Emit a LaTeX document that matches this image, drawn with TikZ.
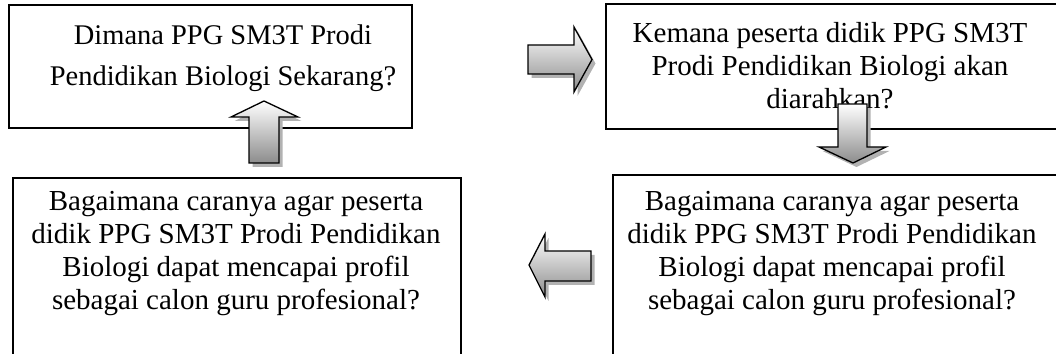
\documentclass[tikz,border=0pt]{standalone}
\usepackage{fontspec}
\setmainfont{Liberation Serif}
\begin{document}
\begin{tikzpicture}[
  qbox/.style={draw=black, line width=0.9pt, anchor=north west, inner sep=0pt},
  qtext/.style={align=center, font=\fontsize{16.5}{18.8}\selectfont, inner sep=0pt},
  blockarr/.style={draw=black, line width=0.75pt, line join=miter,
    top color=white, bottom color=black!45,
    preaction={fill=black!30, transform canvas={shift={(0.07,-0.08)}}}}
]

\useasboundingbox (0,0) rectangle (21.12,-7.08);
\clip (0,0) rectangle (21.12,-7.08);

%% the four question boxes
\node[qbox, minimum width=8.06cm, minimum height=2.46cm] (now) at (0.16,-0.08) {};
\node[qbox, minimum width=9.3cm, minimum height=2.5cm] (where) at (12.10,-0.06) {};
\node[qbox, minimum width=9cm, minimum height=4cm] (howR) at (12.24,-3.48) {};
\node[qbox, minimum width=8.96cm, minimum height=4cm] (howL) at (0.24,-3.54) {};

%% texts
\node[qtext, font=\fontsize{16.2}{23.5}\selectfont] (tnow) at (4.46,-1.17)
  {Dimana PPG SM3T Prodi\\Pendidikan Biologi Sekarang?};
\node[qtext] (twhere) at (16.6,-1.32) {Kemana peserta didik PPG SM3T\\Prodi Pendidikan Biologi akan\\diarahkan?};
\node[qtext] (thowR) at (16.64,-5.07) {Bagaimana caranya agar peserta\\didik PPG SM3T Prodi Pendidikan\\Biologi dapat mencapai profil\\sebagai calon guru profesional?};
\node[qtext] (thowL) at (4.72,-5.07) {Bagaimana caranya agar peserta\\didik PPG SM3T Prodi Pendidikan\\Biologi dapat mencapai profil\\sebagai calon guru profesional?};

%% block arrows between the boxes
% now -> where
\shadedraw[blockarr] (10.56,-0.90) -- (11.48,-0.90) -- (11.48,-0.54) -- (11.84,-1.19)
  -- (11.48,-1.84) -- (11.48,-1.48) -- (10.56,-1.48) -- cycle;
% where -> howR
\shadedraw[blockarr] (16.76,-2.08) -- (17.34,-2.08) -- (17.34,-2.94) -- (17.72,-2.94)
  -- (17.06,-3.26) -- (16.38,-2.94) -- (16.76,-2.94) -- cycle;
% howR -> howL
\shadedraw[blockarr] (11.82,-5.02) -- (11.82,-5.62) -- (10.90,-5.62) -- (10.90,-5.94)
  -- (10.58,-5.30) -- (10.90,-4.68) -- (10.90,-5.02) -- cycle;
% howL -> now
\shadedraw[blockarr] (4.98,-3.26) -- (4.98,-2.34) -- (4.62,-2.34) -- (5.28,-2.02)
  -- (5.96,-2.34) -- (5.58,-2.34) -- (5.58,-3.26) -- cycle;

\end{tikzpicture}
\end{document}
